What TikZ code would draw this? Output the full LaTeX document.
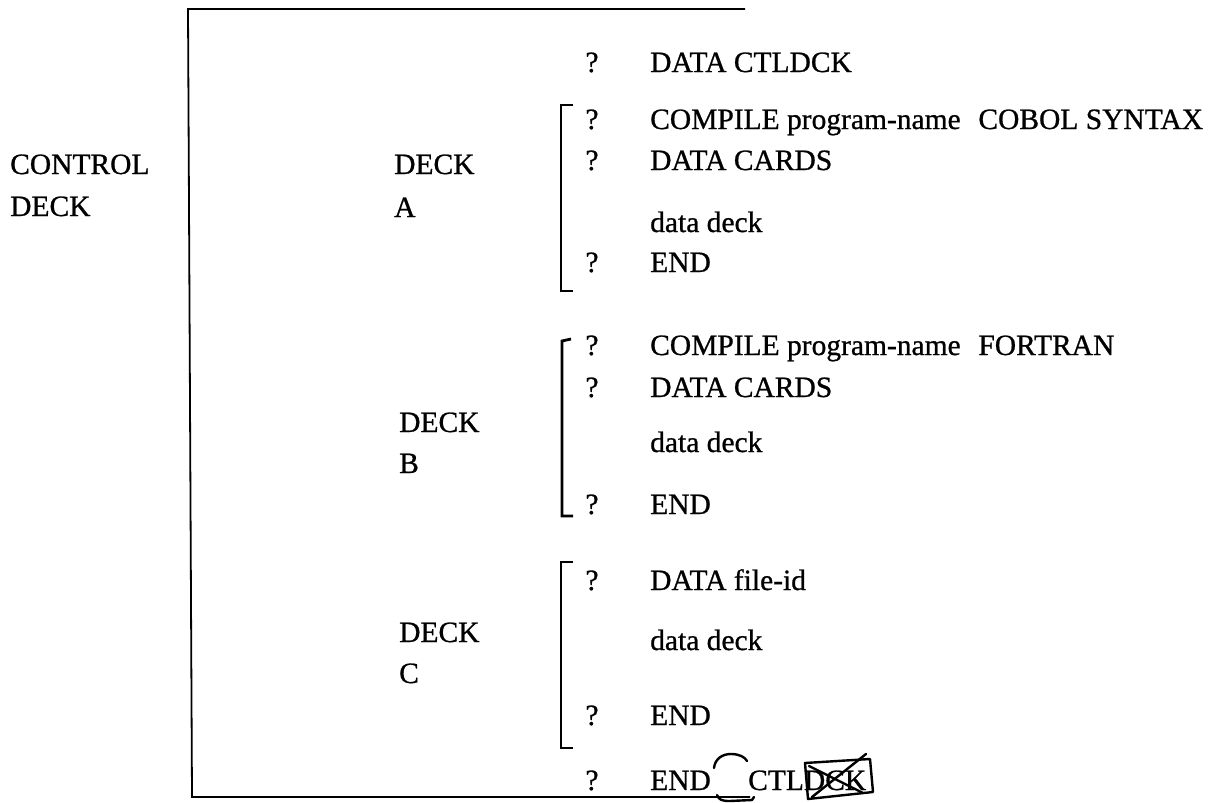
\documentclass[tikz,border=0pt]{standalone}
\usepackage{fontspec}
\newfontfamily\scanfont{Liberation Serif}[FakeBold=0.8]
\begin{document}
\begin{tikzpicture}[x=1pt,y=-1pt,
  txt/.style={anchor=base west,inner sep=0pt,font=\scanfont\fontsize{29.5}{34}\selectfont},
  qm/.style={anchor=base,inner sep=0pt,font=\scanfont\fontsize{29.5}{34}\selectfont},
  frame/.style={line width=1.8pt,line join=miter},
  brk/.style={line width=2.8pt,line join=miter},
  hand/.style={line width=2.4pt,line cap=round,line join=round}]
\useasboundingbox (0,0) rectangle (1219,803);
% frame
\coordinate (ftr) at (745,9);
\coordinate (ftl) at (188,9);
\coordinate (fbl) at (192,797);
\coordinate (fbr) at (750,797);
\draw[frame] (ftr) -- (ftl) -- (fbl) -- (fbr);
% left labels
\node[txt] (ctl1) at (10,174) {CONTROL};
\node[txt] (ctl2) at (10,216) {DECK};
\node[txt] (da1) at (394,174) {DECK};
\node[txt] (da2) at (394,217) {A};
\node[txt] (db1) at (399,432) {DECK};
\node[txt] (db2) at (399,473) {B};
\node[txt] (dc1) at (399,642) {DECK};
\node[txt] (dc2) at (399,683) {C};
% first line
\node[qm] (q0) at (592,72) {?};
\node[txt] (t0) at (650,72) {DATA CTLDCK};
% deck A
\node[qm] (qa1) at (592,129) {?};
\node[txt] (ta1) at (650,129) {COMPILE program-name\hspace{0.6em}COBOL SYNTAX};
\node[qm] (qa2) at (592,170) {?};
\node[txt] (ta2) at (650,170) {DATA CARDS};
\node[txt] (ta3) at (650,232) {data deck};
\node[qm] (qa4) at (592,272) {?};
\node[txt] (ta4) at (650,272) {END};
\draw[brk] (573,105) -- (561,105) -- (561,291) -- (573,291);
% deck B
\node[qm] (qb1) at (592,355) {?};
\node[txt] (tb1) at (650,355) {COMPILE program-name\hspace{0.6em}FORTRAN};
\node[qm] (qb2) at (592,397) {?};
\node[txt] (tb2) at (650,397) {DATA CARDS};
\node[txt] (tb3) at (650,452) {data deck};
\node[qm] (qb4) at (592,514) {?};
\node[txt] (tb4) at (650,514) {END};
\draw[brk] (571,339) -- (562,341) -- (562,516) -- (573,516);
% deck C
\node[qm] (qc1) at (592,590) {?};
\node[txt] (tc1) at (650,590) {DATA file-id};
\node[txt] (tc2) at (650,650) {data deck};
\node[qm] (qc3) at (592,725) {?};
\node[txt] (tc3) at (650,725) {END};
\draw[brk] (573,562) -- (561,562) -- (561,748) -- (573,748);
% last line
\node[qm] (qe) at (592,790) {?};
\node[txt] (te1) at (650,790) {END};
\node[txt] (te2) at (748,790) {CTLDCK};
% handwritten marks
\draw[hand] (714,768) .. controls (715,759) and (722,754) .. (731,754) .. controls (739,754) and (745,757) .. (747,761);
\draw[hand] (717,795) .. controls (719,800) and (722,801) .. (730,801) -- (752,800) -- (754,797);
\draw[hand] (805,763) -- (870,759) -- (873,792) -- (808,799) -- cycle;
\draw[hand] (809,766) -- (863,793);
\draw[hand] (812,797) -- (866,754);
\end{tikzpicture}
\end{document}
